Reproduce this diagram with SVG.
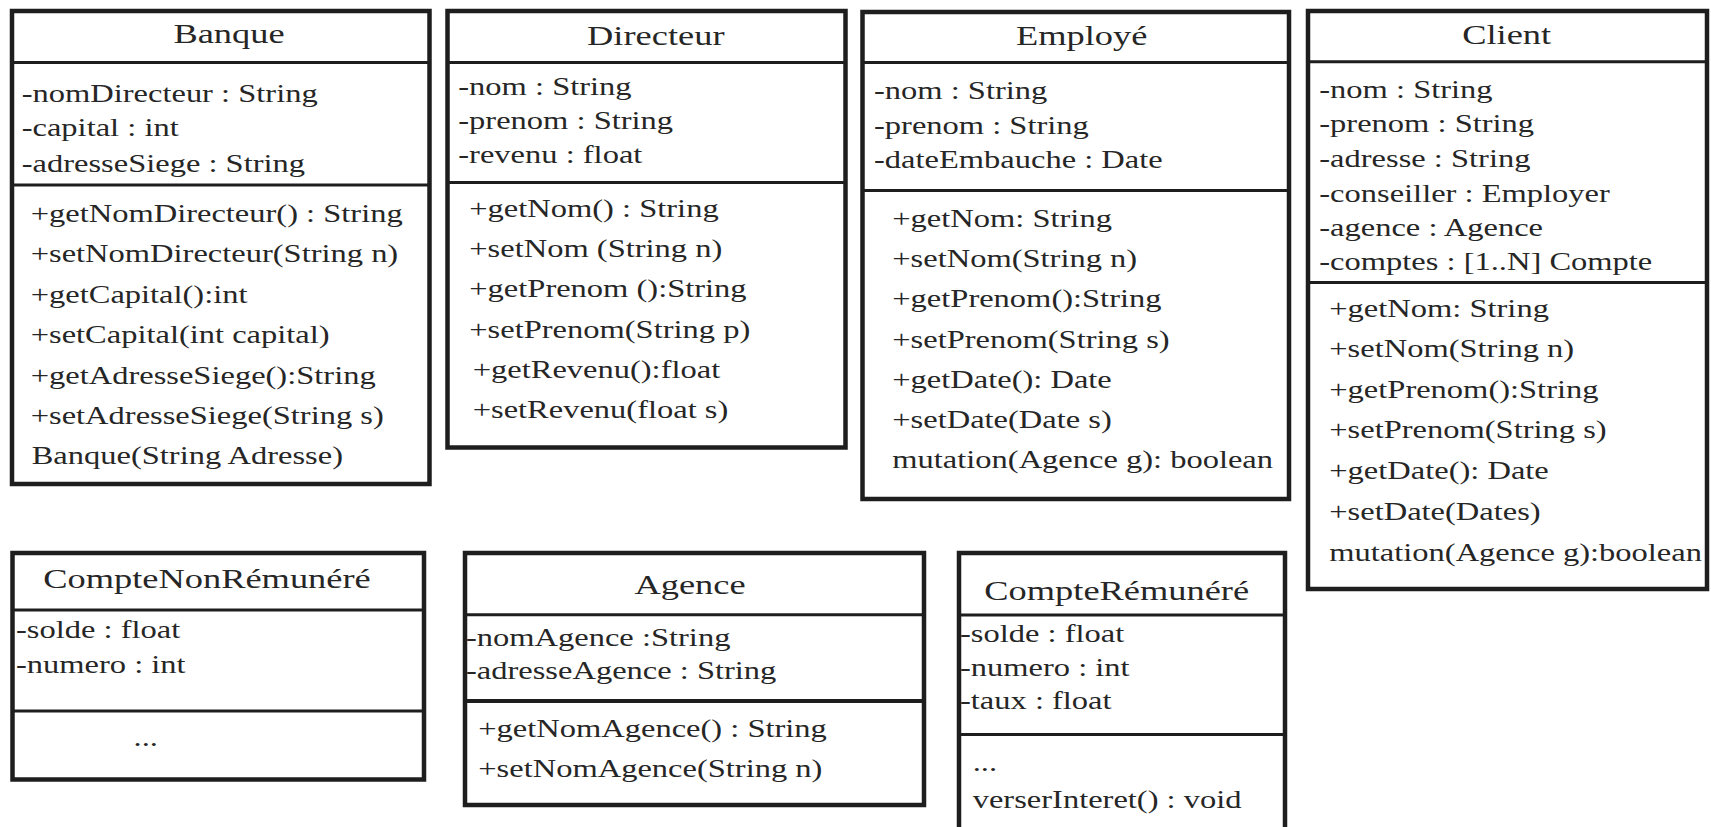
<svg xmlns="http://www.w3.org/2000/svg" width="1711" height="827" viewBox="0 0 1711 827">
<style>
.box{fill:#fff;stroke:#1e1e1e;stroke-width:4.5}
.dv{stroke:#1e1e1e;stroke-width:3}
.t{font-family:"Liberation Serif","Times New Roman",serif;font-size:25px;fill:#262626}
.h{font-size:28px;text-anchor:middle}
.m{text-anchor:middle}
</style>
<rect width="1711" height="827" fill="#fff"/>
<g id="connectors"/>

<g id="Banque">
<rect class="box" x="12" y="11" width="417.5" height="473"/>
<line class="dv" x1="12" y1="62.5" x2="429.5" y2="62.5"/>
<line class="dv" x1="12" y1="185" x2="429.5" y2="185"/>
<text class="t h" transform="translate(229 43) scale(1.3 1)">Banque</text>
<text class="t" transform="translate(21.7 101.7) scale(1.3 1)">-nomDirecteur : String</text>
<text class="t" transform="translate(21.7 136) scale(1.3 1)">-capital : int</text>
<text class="t" transform="translate(21.7 171.7) scale(1.3 1)">-adresseSiege : String</text>
<text class="t" transform="translate(30.7 221.7) scale(1.3 1)">+getNomDirecteur() : String</text>
<text class="t" transform="translate(30.7 261.7) scale(1.3 1)">+setNomDirecteur(String n)</text>
<text class="t" transform="translate(30.7 302.7) scale(1.3 1)">+getCapital():int</text>
<text class="t" transform="translate(30.7 343) scale(1.3 1)">+setCapital(int capital)</text>
<text class="t" transform="translate(30.7 384) scale(1.3 1)">+getAdresseSiege():String</text>
<text class="t" transform="translate(30.7 424) scale(1.3 1)">+setAdresseSiege(String s)</text>
<text class="t" transform="translate(31.7 464) scale(1.3 1)">Banque(String Adresse)</text>
</g>

<g id="Directeur">
<rect class="box" x="447.5" y="11" width="398" height="436.5"/>
<line class="dv" x1="447.5" y1="62.5" x2="845.5" y2="62.5"/>
<line class="dv" x1="447.5" y1="182.5" x2="845.5" y2="182.5"/>
<text class="t h" transform="translate(655.8 45) scale(1.3 1)">Directeur</text>
<text class="t" transform="translate(458.3 95) scale(1.3 1)">-nom : String</text>
<text class="t" transform="translate(458.3 129.3) scale(1.3 1)">-prenom : String</text>
<text class="t" transform="translate(458.3 163.3) scale(1.3 1)">-revenu : float</text>
<text class="t" transform="translate(469.3 216.7) scale(1.3 1)">+getNom() : String</text>
<text class="t" transform="translate(469.3 256.7) scale(1.3 1)">+setNom (String n)</text>
<text class="t" transform="translate(469.3 297.3) scale(1.3 1)">+getPrenom ():String</text>
<text class="t" transform="translate(469.3 338.3) scale(1.3 1)">+setPrenom(String p)</text>
<text class="t" transform="translate(472.7 378.3) scale(1.3 1)">+getRevenu():float</text>
<text class="t" transform="translate(472.7 418.3) scale(1.3 1)">+setRevenu(float s)</text>
</g>

<g id="Employe">
<rect class="box" x="862.5" y="12" width="426.5" height="487"/>
<line class="dv" x1="862.5" y1="62.5" x2="1289" y2="62.5"/>
<line class="dv" x1="862.5" y1="190.5" x2="1289" y2="190.5"/>
<text class="t h" transform="translate(1081.7 45) scale(1.3 1)">Employé</text>
<text class="t" transform="translate(874 99.3) scale(1.3 1)">-nom : String</text>
<text class="t" transform="translate(874 134) scale(1.3 1)">-prenom : String</text>
<text class="t" transform="translate(874 168.3) scale(1.3 1)">-dateEmbauche : Date</text>
<text class="t" transform="translate(892.3 226.7) scale(1.3 1)">+getNom: String</text>
<text class="t" transform="translate(892.3 266.7) scale(1.3 1)">+setNom(String n)</text>
<text class="t" transform="translate(892.3 307.3) scale(1.3 1)">+getPrenom():String</text>
<text class="t" transform="translate(892.3 348.3) scale(1.3 1)">+setPrenom(String s)</text>
<text class="t" transform="translate(892.3 388.3) scale(1.3 1)">+getDate(): Date</text>
<text class="t" transform="translate(892.3 428.3) scale(1.3 1)">+setDate(Date s)</text>
<text class="t" transform="translate(892.3 468.3) scale(1.3 1)">mutation(Agence g): boolean</text>
</g>

<g id="Client">
<rect class="box" x="1308" y="11" width="399" height="578"/>
<line class="dv" x1="1308" y1="61.7" x2="1707" y2="61.7"/>
<line class="dv" x1="1308" y1="282.5" x2="1707" y2="282.5"/>
<text class="t h" transform="translate(1506.7 44) scale(1.3 1)">Client</text>
<text class="t" transform="translate(1319.3 98.3) scale(1.3 1)">-nom : String</text>
<text class="t" transform="translate(1319.3 132.3) scale(1.3 1)">-prenom : String</text>
<text class="t" transform="translate(1319.3 166.7) scale(1.3 1)">-adresse : String</text>
<text class="t" transform="translate(1319.3 201.7) scale(1.3 1)">-conseiller : Employer</text>
<text class="t" transform="translate(1319.3 236) scale(1.3 1)">-agence : Agence</text>
<text class="t" transform="translate(1319.3 270) scale(1.3 1)">-comptes : [1..N] Compte</text>
<text class="t" transform="translate(1329.3 316.7) scale(1.3 1)">+getNom: String</text>
<text class="t" transform="translate(1329.3 357.3) scale(1.3 1)">+setNom(String n)</text>
<text class="t" transform="translate(1329.3 398.3) scale(1.3 1)">+getPrenom():String</text>
<text class="t" transform="translate(1329.3 438.3) scale(1.3 1)">+setPrenom(String s)</text>
<text class="t" transform="translate(1329.3 479) scale(1.3 1)">+getDate(): Date</text>
<text class="t" transform="translate(1329.3 520) scale(1.3 1)">+setDate(Dates)</text>
<text class="t" transform="translate(1329.3 560.7) scale(1.3 1)">mutation(Agence g):boolean</text>
</g>

<g id="CompteNonRemunere">
<rect class="box" x="12.5" y="553" width="411.5" height="226.5"/>
<line class="dv" x1="12.5" y1="610" x2="424" y2="610"/>
<line class="dv" x1="12.5" y1="711" x2="424" y2="711"/>
<text class="t h" transform="translate(207 588.3) scale(1.3 1)">CompteNonRémunéré</text>
<text class="t" transform="translate(16 638.3) scale(1.3 1)">-solde : float</text>
<text class="t" transform="translate(16 672.7) scale(1.3 1)">-numero : int</text>
<text class="t m" transform="translate(145.7 746) scale(1.3 1)">...</text>
</g>

<g id="Agence">
<rect class="box" x="465" y="553" width="459" height="252"/>
<line class="dv" x1="465" y1="614.7" x2="924" y2="614.7"/>
<line class="dv" x1="465" y1="701" x2="924" y2="701" style="stroke-width:4"/>
<text class="t h" transform="translate(690 594) scale(1.3 1)">Agence</text>
<text class="t" transform="translate(466 646) scale(1.3 1)">-nomAgence :String</text>
<text class="t" transform="translate(466 679.3) scale(1.3 1)">-adresseAgence : String</text>
<text class="t" transform="translate(478.3 736.7) scale(1.3 1)">+getNomAgence() : String</text>
<text class="t" transform="translate(478.3 776.7) scale(1.3 1)">+setNomAgence(String n)</text>
</g>

<g id="CompteRemunere">
<rect class="box" x="959" y="553" width="326" height="300"/>
<line class="dv" x1="959" y1="615" x2="1285" y2="615"/>
<line class="dv" x1="959" y1="734.5" x2="1285" y2="734.5"/>
<text class="t h" transform="translate(1116.7 600) scale(1.3 1)">CompteRémunéré</text>
<text class="t" transform="translate(960 642.3) scale(1.3 1)">-solde : float</text>
<text class="t" transform="translate(960 676) scale(1.3 1)">-numero : int</text>
<text class="t" transform="translate(960 709.3) scale(1.3 1)">-taux : float</text>
<text class="t" transform="translate(972.7 771) scale(1.3 1)">...</text>
<text class="t" transform="translate(972.7 808) scale(1.3 1)">verserInteret() : void</text>
</g>
</svg>
